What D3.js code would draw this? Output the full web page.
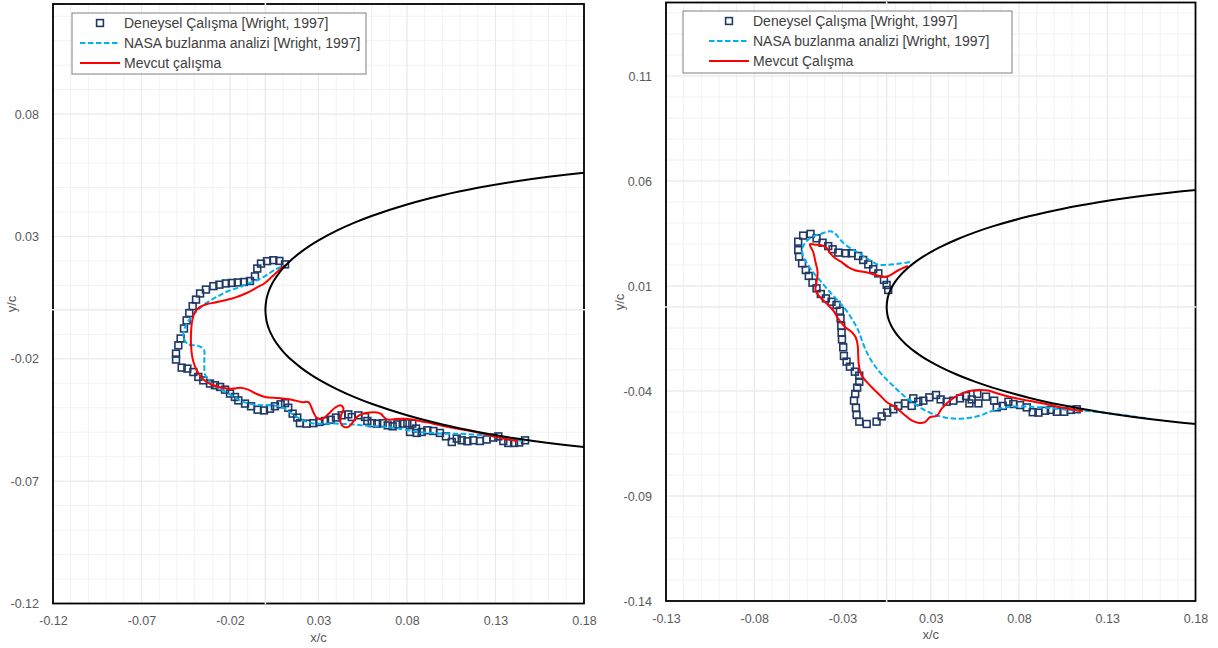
<!DOCTYPE html>
<html>
<head>
<meta charset="utf-8">
<script src="https://cdn.jsdelivr.net/npm/d3@7"></script>
<style>
  body { margin: 0; background: #fff; }
  svg { display: block; font-family: "Liberation Sans", Arial, sans-serif; }
</style>
</head>
<body>
<script>

// NACA 0012 contour (x/c, half thickness)
const airfoilX = [0, 0.0005, 0.001, 0.002, 0.003, 0.005, 0.0075, 0.01, 0.0125, 0.015, 0.02, 0.025, 0.03, 0.04, 0.05, 0.06, 0.08, 0.10, 0.12, 0.14, 0.16, 0.18, 0.20]
const airfoilHalf = [0, 0.00395, 0.00556, 0.00782, 0.00953, 0.01221, 0.01485, 0.01704, 0.01894, 0.02064, 0.02360, 0.02615, 0.02840, 0.03228, 0.03555, 0.03838, 0.04307, 0.04683, 0.04988, 0.05238, 0.05442, 0.05607, 0.05738]

const legendLabelsLeft = ["Deneysel Çalışma [Wright, 1997]", "NASA buzlanma analizi [Wright, 1997]", "Mevcut çalışma"]
const legendLabelsRight = ["Deneysel Çalışma [Wright, 1997]", "NASA buzlanma analizi [Wright, 1997]", "Mevcut Çalışma"]

// left panel
const leftXTicks = [-0.12, -0.07, -0.02, 0.03, 0.08, 0.13, 0.18]
const leftXTickLabels = ["-0.12", "-0.07", "-0.02", "0.03", "0.08", "0.13", "0.18"]
const leftYTicks = [-0.12, -0.07, -0.02, 0.03, 0.08]
const leftYTickLabels = ["-0.12", "-0.07", "-0.02", "0.03", "0.08"]

const leftExperiment = [
  [0.0111, 0.0186], [0.0079, 0.0200], [0.0045, 0.0203], [0.0009, 0.0199], [-0.0025, 0.0189], [-0.0046, 0.0169],
  [-0.0059, 0.0137], [-0.0087, 0.0118], [-0.0121, 0.0114], [-0.0156, 0.0112], [-0.0190, 0.0110], [-0.0224, 0.0108],
  [-0.0260, 0.0103], [-0.0294, 0.0097], [-0.0336, 0.0083], [-0.0369, 0.0067], [-0.0392, 0.0042], [-0.0411, 0.0015],
  [-0.0430, -0.0013], [-0.0445, -0.0043], [-0.0460, -0.0076], [-0.0479, -0.0117], [-0.0492, -0.0145], [-0.0505, -0.0179],
  [-0.0505, -0.0203], [-0.0473, -0.0236], [-0.0441, -0.0240], [-0.0407, -0.0254], [-0.0379, -0.0274], [-0.0351, -0.0288],
  [-0.0313, -0.0301], [-0.0285, -0.0308], [-0.0256, -0.0315], [-0.0228, -0.0326], [-0.0200, -0.0342], [-0.0172, -0.0356],
  [-0.0153, -0.0370], [-0.0115, -0.0383], [-0.0081, -0.0394], [-0.0044, -0.0408], [-0.0008, -0.0411], [0.0026, -0.0404],
  [0.0054, -0.0394], [0.0086, -0.0386], [0.0111, -0.0381], [0.0129, -0.0400], [0.0154, -0.0424], [0.0180, -0.0440],
  [0.0195, -0.0463], [0.0233, -0.0465], [0.0271, -0.0463], [0.0305, -0.0458], [0.0337, -0.0454], [0.0369, -0.0449],
  [0.0399, -0.0440], [0.0431, -0.0431], [0.0468, -0.0427], [0.0488, -0.0438], [0.0525, -0.0431], [0.0563, -0.0438],
  [0.0576, -0.0454], [0.0601, -0.0463], [0.0632, -0.0465], [0.0663, -0.0463], [0.0691, -0.0472], [0.0719, -0.0476],
  [0.0745, -0.0468], [0.0776, -0.0465], [0.0802, -0.0463], [0.0830, -0.0465], [0.0817, -0.0499], [0.0855, -0.0503],
  [0.0851, -0.0485], [0.0883, -0.0499], [0.0915, -0.0492], [0.0949, -0.0495], [0.0986, -0.0503], [0.1020, -0.0517],
  [0.1053, -0.0540], [0.1081, -0.0526], [0.1109, -0.0533], [0.1141, -0.0537], [0.1175, -0.0533], [0.1212, -0.0536],
  [0.1250, -0.0530], [0.1288, -0.0522], [0.1316, -0.0517], [0.1344, -0.0536], [0.1372, -0.0544], [0.1405, -0.0544],
  [0.1434, -0.0542], [0.1467, -0.0533]
]

const leftNasa = [
  [0.0090, 0.0175], [0.0054, 0.0165], [0.0007, 0.0142], [-0.0040, 0.0124], [-0.0097, 0.0108], [-0.0153, 0.0091],
  [-0.0210, 0.0077], [-0.0256, 0.0060], [-0.0303, 0.0042], [-0.0351, 0.0019], [-0.0392, -0.0009], [-0.0426, -0.0036],
  [-0.0449, -0.0063], [-0.0460, -0.0086], [-0.0464, -0.0111], [-0.0436, -0.0141], [-0.0379, -0.0147], [-0.0347, -0.0162],
  [-0.0345, -0.0193], [-0.0345, -0.0227], [-0.0342, -0.0262], [-0.0323, -0.0288], [-0.0300, -0.0305], [-0.0250, -0.0325],
  [-0.0190, -0.0350], [-0.0134, -0.0373], [-0.0077, -0.0386], [-0.0021, -0.0390], [0.0036, -0.0390], [0.0092, -0.0397],
  [0.0149, -0.0424], [0.0205, -0.0449], [0.0262, -0.0463], [0.0337, -0.0465], [0.0412, -0.0465], [0.0488, -0.0468],
  [0.0563, -0.0473], [0.0638, -0.0476], [0.0714, -0.0481], [0.0789, -0.0490], [0.0864, -0.0499], [0.0940, -0.0503],
  [0.1015, -0.0506], [0.1090, -0.0506], [0.1166, -0.0509], [0.1241, -0.0513], [0.1316, -0.0520], [0.1392, -0.0529],
  [0.1467, -0.0536]
]

const leftPresent = [
  [0.0111, 0.0182], [0.0073, 0.0159], [0.0036, 0.0135], [-0.0002, 0.0110], [-0.0049, 0.0091], [-0.0106, 0.0069],
  [-0.0172, 0.0050], [-0.0228, 0.0039], [-0.0285, 0.0030], [-0.0332, 0.0023], [-0.0369, 0.0012], [-0.0398, -0.0009],
  [-0.0413, -0.0043], [-0.0420, -0.0090], [-0.0420, -0.0145], [-0.0413, -0.0193], [-0.0398, -0.0231], [-0.0375, -0.0263],
  [-0.0345, -0.0288], [-0.0303, -0.0306], [-0.0247, -0.0318], [-0.0190, -0.0322], [-0.0138, -0.0318], [-0.0097, -0.0326],
  [-0.0055, -0.0342], [-0.0002, -0.0356], [0.0073, -0.0360], [0.0149, -0.0367], [0.0205, -0.0377], [0.0243, -0.0377],
  [0.0271, -0.0418], [0.0290, -0.0441], [0.0318, -0.0447], [0.0354, -0.0427], [0.0393, -0.0400], [0.0424, -0.0390],
  [0.0441, -0.0402], [0.0427, -0.0433], [0.0424, -0.0460], [0.0444, -0.0478], [0.0469, -0.0478], [0.0489, -0.0464],
  [0.0518, -0.0437], [0.0554, -0.0423], [0.0591, -0.0419], [0.0631, -0.0419], [0.0653, -0.0425], [0.0673, -0.0441],
  [0.0695, -0.0449], [0.0727, -0.0447], [0.0779, -0.0445], [0.0836, -0.0449], [0.0892, -0.0457], [0.0949, -0.0465],
  [0.1005, -0.0475], [0.1062, -0.0483], [0.1118, -0.0490], [0.1175, -0.0497], [0.1231, -0.0506], [0.1288, -0.0517],
  [0.1354, -0.0527], [0.1427, -0.0537]
]

// right panel
const rightXTicks = [-0.125, -0.075, -0.025, 0.025, 0.075, 0.125, 0.175]
const rightXTickLabels = ["-0.13", "-0.08", "-0.03", "0.03", "0.08", "0.13", "0.18"]
const rightYTicks = [-0.14, -0.09, -0.04, 0.01, 0.06, 0.11]
const rightYTickLabels = ["-0.14", "-0.09", "-0.04", "0.01", "0.06", "0.11"]

const rightExperiment = [
  [0.0009, 0.0081], [0.0000, 0.0105], [-0.0015, 0.0129], [-0.0047, 0.0160], [-0.0076, 0.0180], [-0.0104, 0.0203],
  [-0.0133, 0.0224], [-0.0161, 0.0243], [-0.0198, 0.0256], [-0.0231, 0.0256], [-0.0274, 0.0259], [-0.0306, 0.0275],
  [-0.0331, 0.0290], [-0.0363, 0.0306], [-0.0397, 0.0327], [-0.0431, 0.0348], [-0.0473, 0.0340], [-0.0501, 0.0311],
  [-0.0501, 0.0271], [-0.0496, 0.0240], [-0.0479, 0.0208], [-0.0458, 0.0176], [-0.0441, 0.0148], [-0.0420, 0.0116],
  [-0.0397, 0.0089], [-0.0373, 0.0062], [-0.0344, 0.0041], [-0.0312, 0.0025], [-0.0284, 0.0010], [-0.0265, -0.0018],
  [-0.0261, -0.0054], [-0.0257, -0.0090], [-0.0255, -0.0122], [-0.0253, -0.0154], [-0.0246, -0.0192], [-0.0242, -0.0233],
  [-0.0227, -0.0260], [-0.0208, -0.0284], [-0.0180, -0.0308], [-0.0155, -0.0327], [-0.0155, -0.0356], [-0.0167, -0.0384],
  [-0.0178, -0.0414], [-0.0185, -0.0446], [-0.0174, -0.0480], [-0.0170, -0.0514], [-0.0155, -0.0546], [-0.0113, -0.0557],
  [-0.0057, -0.0546], [-0.0028, -0.0521], [0.0003, -0.0503], [0.0038, -0.0487], [0.0066, -0.0471], [0.0104, -0.0459],
  [0.0142, -0.0471], [0.0151, -0.0435], [0.0179, -0.0451], [0.0208, -0.0446], [0.0242, -0.0430], [0.0280, -0.0419],
  [0.0306, -0.0440], [0.0340, -0.0451], [0.0378, -0.0446], [0.0416, -0.0435], [0.0450, -0.0424], [0.0469, -0.0459],
  [0.0482, -0.0440], [0.0514, -0.0414], [0.0520, -0.0459], [0.0563, -0.0427], [0.0609, -0.0446], [0.0624, -0.0478],
  [0.0658, -0.0471], [0.0690, -0.0451], [0.0718, -0.0462], [0.0756, -0.0467], [0.0794, -0.0478], [0.0828, -0.0501],
  [0.0860, -0.0503], [0.0898, -0.0494], [0.0930, -0.0490], [0.0964, -0.0499], [0.1006, -0.0499], [0.1043, -0.0490],
  [0.1077, -0.0487]
]

const rightNasa = [
  [0.0132, 0.0214], [0.0066, 0.0206], [0.0000, 0.0201], [-0.0047, 0.0201], [-0.0085, 0.0218], [-0.0123, 0.0238],
  [-0.0161, 0.0259], [-0.0202, 0.0278], [-0.0246, 0.0306], [-0.0274, 0.0333], [-0.0303, 0.0357], [-0.0331, 0.0360],
  [-0.0369, 0.0349], [-0.0411, 0.0338], [-0.0448, 0.0318], [-0.0473, 0.0290], [-0.0479, 0.0259], [-0.0459, 0.0218],
  [-0.0425, 0.0175], [-0.0378, 0.0127], [-0.0331, 0.0080], [-0.0278, 0.0032], [-0.0233, -0.0011], [-0.0195, -0.0059],
  [-0.0161, -0.0111], [-0.0133, -0.0175], [-0.0104, -0.0230], [-0.0066, -0.0281], [-0.0019, -0.0329], [0.0038, -0.0376],
  [0.0094, -0.0420], [0.0157, -0.0460], [0.0217, -0.0492], [0.0274, -0.0513], [0.0335, -0.0527], [0.0397, -0.0532],
  [0.0460, -0.0529], [0.0519, -0.0519], [0.0573, -0.0503], [0.0624, -0.0487], [0.0690, -0.0476], [0.0766, -0.0473],
  [0.0841, -0.0476], [0.0916, -0.0481], [0.0992, -0.0487], [0.1068, -0.0492], [0.1163, -0.0497], [0.1258, -0.0506],
  [0.1351, -0.0516], [0.1446, -0.0527], [0.1494, -0.0533]
]

const rightPresent = [
  [0.0121, 0.0195], [0.0066, 0.0175], [0.0019, 0.0151], [-0.0010, 0.0143], [-0.0057, 0.0151], [-0.0104, 0.0163],
  [-0.0151, 0.0170], [-0.0180, 0.0175], [-0.0218, 0.0190], [-0.0255, 0.0214], [-0.0293, 0.0233], [-0.0322, 0.0259],
  [-0.0340, 0.0281], [-0.0369, 0.0294], [-0.0407, 0.0297], [-0.0435, 0.0299], [-0.0416, 0.0262], [-0.0403, 0.0214],
  [-0.0391, 0.0167], [-0.0397, 0.0119], [-0.0403, 0.0080], [-0.0378, 0.0048], [-0.0340, 0.0016], [-0.0303, -0.0016],
  [-0.0274, -0.0056], [-0.0236, -0.0095], [-0.0198, -0.0119], [-0.0176, -0.0143], [-0.0164, -0.0182], [-0.0161, -0.0230],
  [-0.0157, -0.0278], [-0.0142, -0.0325], [-0.0113, -0.0357], [-0.0076, -0.0389], [-0.0038, -0.0420], [0.0000, -0.0452],
  [0.0047, -0.0476], [0.0094, -0.0508], [0.0142, -0.0540], [0.0178, -0.0551], [0.0217, -0.0548], [0.0246, -0.0524],
  [0.0284, -0.0519], [0.0312, -0.0484], [0.0349, -0.0452], [0.0406, -0.0420], [0.0463, -0.0401], [0.0519, -0.0395],
  [0.0576, -0.0398], [0.0633, -0.0413], [0.0690, -0.0426], [0.0766, -0.0440], [0.0841, -0.0452], [0.0916, -0.0464],
  [0.0992, -0.0479], [0.1068, -0.0490], [0.1113, -0.0495]
]

const svg = d3.select("body")
  .append("svg")
  .attr("width", 1218)
  .attr("height", 648)

// closed airfoil outline: upper surface from the tail to the nose, then lower surface back
const airfoil = airfoilX.map((x, i) => [x, airfoilHalf[i]]).reverse()
  .concat(airfoilX.slice(1).map((x, i) => [x, -airfoilHalf[i + 1]]))

function drawPanel(p) {
  const x = d3.scaleLinear(p.xDomain, [p.left, p.right])
  const y = d3.scaleLinear(p.yDomain, [p.bottom, p.top])
  const g = svg.append("g")

  g.append("clipPath").attr("id", p.id + "-clip")
    .append("rect")
      .attr("x", p.left).attr("y", p.top)
      .attr("width", p.right - p.left).attr("height", p.bottom - p.top)

  //minor and major grid
  const minorX = d3.range(p.xDomain[0], p.xDomain[1] + 1e-9, 0.01)
  const minorY = d3.range(p.yDomain[0], p.yDomain[1] + 1e-9, 0.01)
  g.append("g").selectAll("line").data(minorX).join("line")
    .attr("x1", d => x(d)).attr("x2", d => x(d))
    .attr("y1", p.top).attr("y2", p.bottom)
    .attr("stroke", "#f2f2f2")
  g.append("g").selectAll("line").data(minorY).join("line")
    .attr("y1", d => y(d)).attr("y2", d => y(d))
    .attr("x1", p.left).attr("x2", p.right)
    .attr("stroke", "#f2f2f2")
  g.append("g").selectAll("line").data(p.xTicks).join("line")
    .attr("x1", d => x(d)).attr("x2", d => x(d))
    .attr("y1", p.top).attr("y2", p.bottom)
    .attr("stroke", "#e9e9e9")
  g.append("g").selectAll("line").data(p.yTicks).join("line")
    .attr("y1", d => y(d)).attr("y2", d => y(d))
    .attr("x1", p.left).attr("x2", p.right)
    .attr("stroke", "#e9e9e9")

  //plot border, then the zero axis lines over it
  g.append("rect")
    .attr("x", p.left).attr("y", p.top)
    .attr("width", p.right - p.left).attr("height", p.bottom - p.top)
    .attr("fill", "none").attr("stroke", "#000").attr("stroke-width", 1.8)
  g.append("line")
    .attr("x1", x(0)).attr("x2", x(0)).attr("y1", p.top - 1).attr("y2", p.bottom + 1)
    .attr("stroke", "#ececec").attr("stroke-width", 1.5)
  g.append("line")
    .attr("y1", y(0)).attr("y2", y(0)).attr("x1", p.left - 1).attr("x2", p.right + 1)
    .attr("stroke", "#ececec").attr("stroke-width", 1.5)

  //series
  const plot = g.append("g").attr("clip-path", `url(#${p.id}-clip)`)
  const line = d3.line().x(d => x(d[0])).y(d => y(d[1])).curve(d3.curveCatmullRom.alpha(0.5))

  plot.selectAll("rect.exp").data(p.experiment).join("rect")
    .attr("class", "exp")
    .attr("x", d => x(d[0]) - 3.4).attr("y", d => y(d[1]) - 3.4)
    .attr("width", 6.8).attr("height", 6.8)
    .attr("fill", "none").attr("stroke", "#1f3864").attr("stroke-width", 1.6)
  plot.append("path").datum(p.nasa)
    .attr("d", line)
    .attr("fill", "none").attr("stroke", "#00b0f0").attr("stroke-width", 2)
    .attr("stroke-dasharray", "5.5,2.5")
  plot.append("path").datum(p.present)
    .attr("d", line)
    .attr("fill", "none").attr("stroke", "#ff0000").attr("stroke-width", 2)
  plot.append("path").datum(airfoil)
    .attr("d", line)
    .attr("fill", "none").attr("stroke", "#000").attr("stroke-width", 2)

  //axes: labels only, sitting at the bottom and left edges
  const xAxis = g.append("g")
    .attr("transform", `translate(0,${p.bottom})`)
    .call(d3.axisBottom(x).tickValues(p.xTicks).tickFormat((d, i) => p.xTickLabels[i]).tickSize(0).tickPadding(13))
  const yAxis = g.append("g")
    .attr("transform", `translate(${p.left},0)`)
    .call(d3.axisLeft(y).tickValues(p.yTicks).tickFormat((d, i) => p.yTickLabels[i]).tickSize(0).tickPadding(14))
  for (const ax of [xAxis, yAxis]) {
    ax.select(".domain").remove()
    ax.selectAll("text").attr("fill", "#595959").style("font-size", "12.5px").style("font-family", "Liberation Sans, Arial, sans-serif")
  }

  g.append("text")
    .attr("x", (p.left + p.right) / 2).attr("y", p.bottom + 38)
    .attr("text-anchor", "middle").attr("fill", "#595959").style("font-size", "13px")
    .text("x/c")
  g.append("text")
    .attr("transform", `translate(${p.yTitleX},${p.yTitleY}) rotate(-90)`)
    .attr("text-anchor", "middle").attr("fill", "#595959").style("font-size", "13px")
    .text("y/c")

  //legend
  const lg = p.legend
  g.append("rect")
    .attr("x", lg.x).attr("y", lg.y).attr("width", lg.w).attr("height", lg.h)
    .attr("fill", "#fff").attr("stroke", "#808080").attr("stroke-width", 1)
  const rows = [lg.y + 10, lg.y + 30, lg.y + 50]
  g.append("rect")
    .attr("x", lg.sx + 16.6).attr("y", rows[0] - 3.4).attr("width", 6.8).attr("height", 6.8)
    .attr("fill", "none").attr("stroke", "#1f3864").attr("stroke-width", 1.6)
  g.append("line")
    .attr("x1", lg.sx).attr("x2", lg.sx + 40).attr("y1", rows[1]).attr("y2", rows[1])
    .attr("stroke", "#00b0f0").attr("stroke-width", 2).attr("stroke-dasharray", "5.5,2.5")
  g.append("line")
    .attr("x1", lg.sx).attr("x2", lg.sx + 40).attr("y1", rows[2]).attr("y2", rows[2])
    .attr("stroke", "#ff0000").attr("stroke-width", 2)
  g.selectAll("text.leg").data(p.labels).join("text")
    .attr("class", "leg")
    .attr("x", lg.sx + 44).attr("y", (d, i) => rows[i] + 5)
    .attr("fill", "#404040").style("font-size", "14px")
    .text(d => d)
}

drawPanel({
  id: "left",
  left: 53, right: 584, top: 4, bottom: 603.5,
  xDomain: [-0.12, 0.18], yDomain: [-0.12, 0.125],
  xTicks: leftXTicks, xTickLabels: leftXTickLabels,
  yTicks: leftYTicks, yTickLabels: leftYTickLabels,
  experiment: leftExperiment, nasa: leftNasa, present: leftPresent,
  labels: legendLabelsLeft,
  legend: { x: 72, y: 13, w: 294, h: 61, sx: 80 },
  yTitleX: 16, yTitleY: 304
})

drawPanel({
  id: "right",
  left: 666, right: 1195.5, top: 2.5, bottom: 601,
  xDomain: [-0.125, 0.175], yDomain: [-0.14, 0.145],
  xTicks: rightXTicks, xTickLabels: rightXTickLabels,
  yTicks: rightYTicks, yTickLabels: rightYTickLabels,
  experiment: rightExperiment, nasa: rightNasa, present: rightPresent,
  labels: legendLabelsRight,
  legend: { x: 683, y: 11, w: 329, h: 62, sx: 709 },
  yTitleX: 624, yTitleY: 302
})

</script>
</body>
</html>
